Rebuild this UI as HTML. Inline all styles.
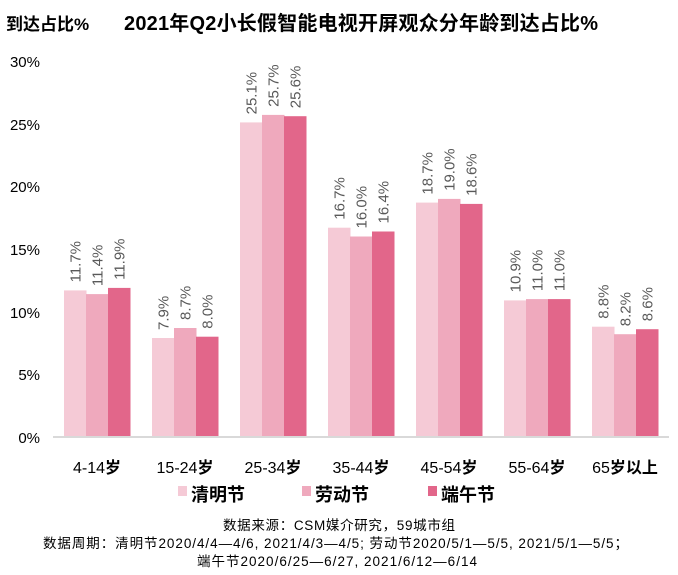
<!DOCTYPE html>
<html><head><meta charset="utf-8"><style>
body{margin:0;background:#fff;width:678px;height:575px;overflow:hidden}
svg{display:block;font-family:"Liberation Sans","Noto Sans CJK SC",sans-serif}
</style></head><body>
<svg id="s" width="678" height="575" viewBox="0 0 678 575">
<text x="6" y="30" font-size="17" font-weight="bold" fill="#000">到达占比%</text>
<text x="124" y="30" font-size="20" font-weight="bold" fill="#000" textLength="474">2021年Q2小长假智能电视开屏观众分年龄到达占比%</text>
<g font-size="15" fill="#000" text-anchor="end">
<text x="40" y="67">30%</text><text x="40" y="130">25%</text><text x="40" y="192">20%</text>
<text x="40" y="255">15%</text><text x="40" y="318">10%</text><text x="40" y="380">5%</text><text x="40" y="443">0%</text>
</g>
<g id="bars"></g>
<line x1="53" y1="437" x2="669" y2="437" stroke="#d9d9d9" stroke-width="2"/>
<g font-size="16" fill="#000" text-anchor="middle">
<text x="97" y="473">4-14<tspan font-weight="bold">岁</tspan></text><text x="185" y="473">15-24<tspan font-weight="bold">岁</tspan></text><text x="273" y="473">25-34<tspan font-weight="bold">岁</tspan></text>
<text x="361" y="473">35-44<tspan font-weight="bold">岁</tspan></text><text x="449" y="473">45-54<tspan font-weight="bold">岁</tspan></text><text x="537" y="473">55-64<tspan font-weight="bold">岁</tspan></text><text x="625" y="473">65<tspan font-weight="bold">岁以上</tspan></text>
</g>
<rect x="178" y="486" width="9" height="10" fill="#f5cad6"/>
<text x="191" y="501" font-size="18" font-weight="bold">清明节</text>
<rect x="302" y="486" width="9" height="10" fill="#efa9bd"/>
<text x="315" y="501" font-size="18" font-weight="bold">劳动节</text>
<rect x="428" y="486" width="9" height="10" fill="#e2668a"/>
<text x="441" y="501" font-size="18" font-weight="bold">端午节</text>
<g font-size="13.5" fill="#000">
<text x="223" y="530" textLength="232">数据来源：CSM媒介研究，59城市组</text>
<text x="43" y="548" textLength="585">数据周期：清明节2020/4/4—4/6, 2021/4/3—4/5; 劳动节2020/5/1—5/5, 2021/5/1—5/5；</text>
<text x="197" y="566" textLength="280">端午节2020/6/25—6/27, 2021/6/12—6/14</text>
</g>
</svg>
<script>
var d=[[11.7,11.4,11.9],[7.9,8.7,8.0],[25.1,25.7,25.6],[16.7,16.0,16.4],[18.7,19.0,18.6],[10.9,11.0,11.0],[8.8,8.2,8.6]];
var c=["#f5cad6","#efa9bd","#e2668a"],s="";
for(var g=0;g<7;g++)for(var i=0;i<3;i++){var v=d[g][i],h=v*12.533,x=64+88*g+22*i,t=437-h,cx=x+11;
s+='<rect x="'+x+'" y="'+t.toFixed(1)+'" width="22.5" height="'+h.toFixed(1)+'" fill="'+c[i]+'"/>';
s+='<text transform="translate('+(cx+5.5)+','+(t-8).toFixed(1)+') rotate(-90)" font-size="15" fill="#595959">'+v.toFixed(1)+'%</text>';}
document.getElementById("bars").innerHTML=s;
</script>
</body></html>
